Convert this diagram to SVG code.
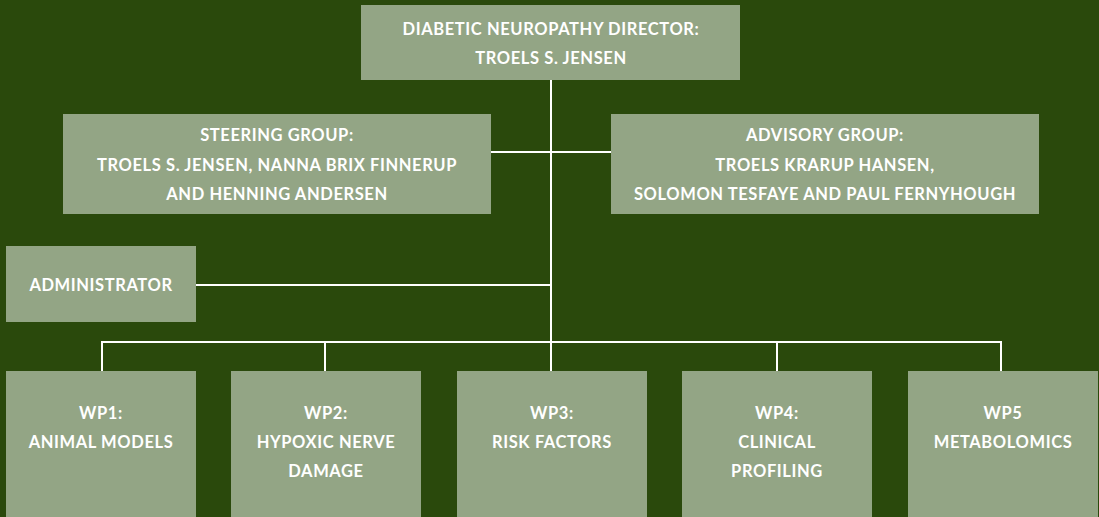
<svg xmlns="http://www.w3.org/2000/svg" width="1099" height="517" viewBox="0 0 1099 517">
<style>
.bg{fill:#2a490c}
.box{fill:#93a585}
.t{font-family:Lato,"Liberation Sans",sans-serif;font-weight:700;font-size:16.5px;letter-spacing:0.6px;fill:#ffffff;text-anchor:middle}
.c{stroke:#ffffff;stroke-width:2;fill:none}
</style>
<rect class="bg" x="0" y="0" width="1099" height="517"/>
<g id="connectors">
<line class="c" x1="551" y1="80" x2="551" y2="371"/>
<line class="c" x1="491" y1="152" x2="611" y2="152"/>
<line class="c" x1="196" y1="285" x2="551" y2="285"/>
<polyline class="c" points="102,371 102,342 1001,342 1001,371"/>
<line class="c" x1="325" y1="342" x2="325" y2="371"/>
<line class="c" x1="777" y1="342" x2="777" y2="371"/>
</g>
<g id="director">
<rect class="box" x="361" y="5" width="379" height="75"/>
<text class="t" x="551" y="35">DIABETIC NEUROPATHY DIRECTOR:</text>
<text class="t" x="551" y="64">TROELS S. JENSEN</text>
</g>
<g id="steering">
<rect class="box" x="63" y="114" width="428" height="100"/>
<text class="t" x="277" y="141">STEERING GROUP:</text>
<text class="t" x="277" y="171">TROELS S. JENSEN, NANNA BRIX FINNERUP</text>
<text class="t" x="277" y="200">AND HENNING ANDERSEN</text>
</g>
<g id="advisory">
<rect class="box" x="611" y="114" width="428" height="100"/>
<text class="t" x="825" y="141">ADVISORY GROUP:</text>
<text class="t" x="825" y="171">TROELS KRARUP HANSEN,</text>
<text class="t" x="825" y="200">SOLOMON TESFAYE AND PAUL FERNYHOUGH</text>
</g>
<g id="administrator">
<rect class="box" x="6" y="246" width="190" height="76"/>
<text class="t" x="101" y="291">ADMINISTRATOR</text>
</g>
<g id="wp1">
<rect class="box" x="6" y="371" width="190" height="146"/>
<text class="t" x="101" y="419">WP1:</text>
<text class="t" x="101" y="448">ANIMAL MODELS</text>
</g>
<g id="wp2">
<rect class="box" x="231" y="371" width="190" height="146"/>
<text class="t" x="326" y="419">WP2:</text>
<text class="t" x="326" y="448">HYPOXIC NERVE</text>
<text class="t" x="326" y="477">DAMAGE</text>
</g>
<g id="wp3">
<rect class="box" x="457" y="371" width="190" height="146"/>
<text class="t" x="552" y="419">WP3:</text>
<text class="t" x="552" y="448">RISK FACTORS</text>
</g>
<g id="wp4">
<rect class="box" x="682" y="371" width="190" height="146"/>
<text class="t" x="777" y="419">WP4:</text>
<text class="t" x="777" y="448">CLINICAL</text>
<text class="t" x="777" y="477">PROFILING</text>
</g>
<g id="wp5">
<rect class="box" x="908" y="371" width="190" height="146"/>
<text class="t" x="1003" y="419">WP5</text>
<text class="t" x="1003" y="448">METABOLOMICS</text>
</g>
</svg>
